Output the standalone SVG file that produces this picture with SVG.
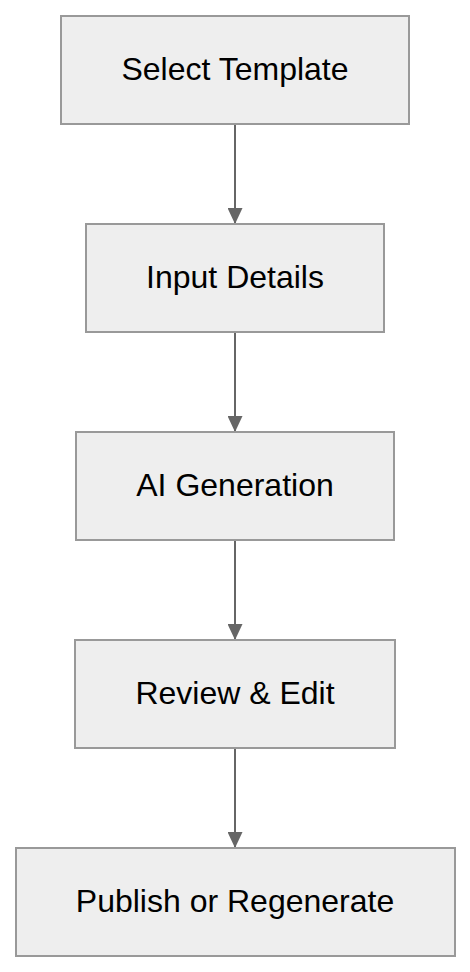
<svg xmlns="http://www.w3.org/2000/svg" width="470" height="972" viewBox="0 0 470 972">
<style>
.box{fill:#eeeeee;stroke:#999999;stroke-width:2}
.lbl{font-family:"Liberation Sans",Arial,sans-serif;font-size:32px;fill:#000000;text-anchor:middle}
.edge{stroke:#666666;stroke-width:2;fill:none}
</style>
<defs>
<marker id="arr" viewBox="0 0 16 15" refX="16" refY="7.5" markerWidth="16" markerHeight="15" markerUnits="userSpaceOnUse" orient="auto">
<path d="M0,0 L16,7.5 L0,15 Z" fill="#666666"/>
</marker>
</defs>
<rect width="470" height="972" fill="#ffffff"/>
<g id="connectors">
<line class="edge" x1="235" y1="124" x2="235" y2="224" marker-end="url(#arr)"/>
<line class="edge" x1="235" y1="332" x2="235" y2="432" marker-end="url(#arr)"/>
<line class="edge" x1="235" y1="540" x2="235" y2="640" marker-end="url(#arr)"/>
<line class="edge" x1="235" y1="748" x2="235" y2="848" marker-end="url(#arr)"/>
</g>
<g id="n1"><rect class="box" x="61" y="16" width="348" height="108"/><text class="lbl" x="235" y="80">Select Template</text></g>
<g id="n2"><rect class="box" x="86" y="224" width="298" height="108"/><text class="lbl" x="235" y="288">Input Details</text></g>
<g id="n3"><rect class="box" x="76" y="432" width="318" height="108"/><text class="lbl" x="235" y="496">AI Generation</text></g>
<g id="n4"><rect class="box" x="75" y="640" width="320" height="108"/><text class="lbl" x="235" y="704">Review &amp; Edit</text></g>
<g id="n5"><rect class="box" x="16" y="848" width="439" height="108"/><text class="lbl" x="235" y="912">Publish or Regenerate</text></g>
</svg>
